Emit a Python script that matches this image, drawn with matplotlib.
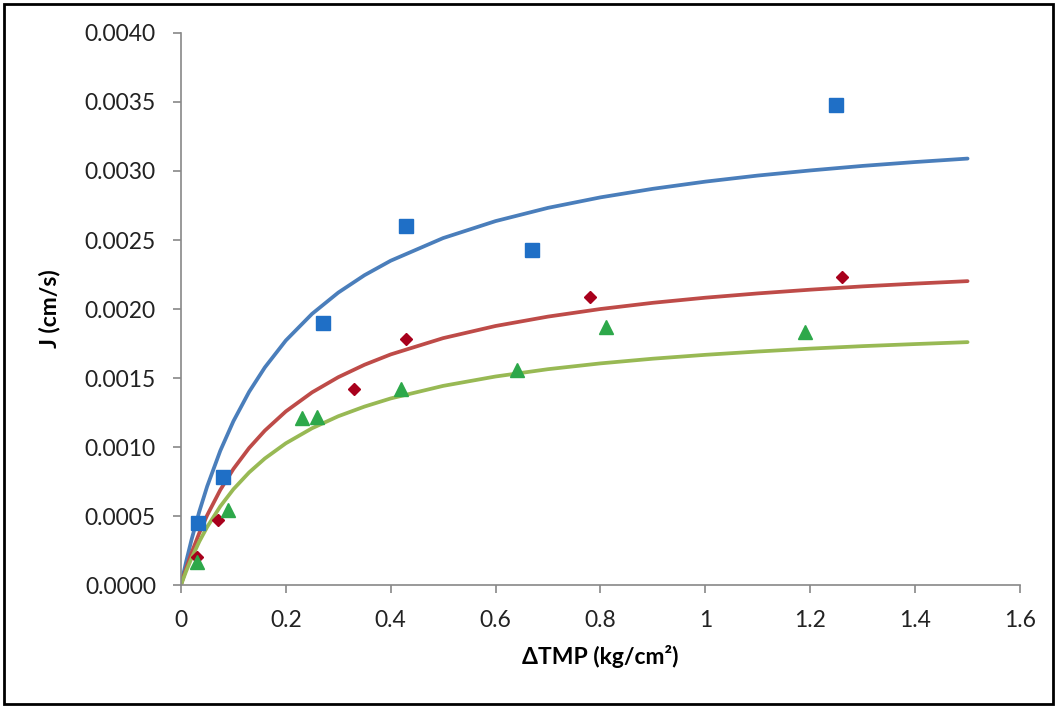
import matplotlib.pyplot as plt
from matplotlib.patches import Rectangle

plt.rcParams['font.family'] = ['Lato', 'DejaVu Sans']

# measured points
blue_x = [0.033, 0.08, 0.27, 0.43, 0.67, 1.25]
blue_y = [0.00045, 0.00078, 0.0019, 0.0026, 0.00243, 0.00348]
red_x = [0.03, 0.071, 0.33, 0.43, 0.78, 1.26]
red_y = [0.0002, 0.00047, 0.00142, 0.00178, 0.00209, 0.00223]
green_x = [0.03, 0.09, 0.23, 0.26, 0.42, 0.64, 0.81, 1.19]
green_y = [0.00017, 0.00054, 0.00121, 0.00122, 0.00142, 0.00156, 0.00187, 0.00183]

# fitted curves
curve_x = [0, 0.01, 0.02, 0.035, 0.05, 0.075, 0.1, 0.13, 0.16, 0.2, 0.25, 0.3, 0.35,
           0.4, 0.5, 0.6, 0.7, 0.8, 0.9, 1.0, 1.1, 1.2, 1.3, 1.4, 1.5]
blue_fit = [0, 0.000171, 0.000326, 0.000533, 0.000715, 0.000973, 0.001187, 0.0014,
            0.001577, 0.001772, 0.001965, 0.002119, 0.002245, 0.00235, 0.002514,
            0.002637, 0.002733, 0.002809, 0.002871, 0.002923, 0.002967, 0.003004,
            0.003037, 0.003065, 0.00309]
red_fit = [0, 0.000121, 0.000231, 0.000377, 0.000506, 0.000689, 0.000841, 0.000993,
           0.001119, 0.001258, 0.001396, 0.001506, 0.001596, 0.001671, 0.001789,
           0.001877, 0.001945, 0.002, 0.002045, 0.002082, 0.002113, 0.00214,
           0.002164, 0.002184, 0.002202]
green_fit = [0, 0.000101, 0.000193, 0.000315, 0.000421, 0.00057, 0.000694, 0.000816,
             0.000917, 0.001027, 0.001136, 0.001223, 0.001293, 0.001352, 0.001443,
             0.001511, 0.001564, 0.001606, 0.00164, 0.001668, 0.001692, 0.001713,
             0.001731, 0.001746, 0.00176]

x_ticks = [0, 0.2, 0.4, 0.6, 0.8, 1, 1.2, 1.4, 1.6]
x_labels = ['0', '0.2', '0.4', '0.6', '0.8', '1', '1.2', '1.4', '1.6']
y_ticks = [0, 0.0005, 0.001, 0.0015, 0.002, 0.0025, 0.003, 0.0035, 0.004]

fig = plt.figure(figsize=(10.57, 7.08), dpi=100)
ax = fig.add_axes([0.1712, 0.1737, 0.7938, 0.7797])

ax.plot(curve_x, blue_fit, color='#4A7EBB', lw=2.7, solid_capstyle='round', zorder=2)
ax.plot(curve_x, red_fit, color='#BE4B48', lw=2.7, solid_capstyle='round', zorder=2)
ax.plot(curve_x, green_fit, color='#98B954', lw=2.7, solid_capstyle='round', zorder=2)

ax.plot(blue_x, blue_y, 's', color='#1F6FC6', ms=10, ls='none', zorder=3)
ax.plot(red_x, red_y, 'D', color='#A8001C', ms=6.5, ls='none', zorder=3)
ax.plot(green_x, green_y, '^', color='#2DA84A', ms=9.5, ls='none', zorder=3)

ax.set_xlim(0, 1.6)
ax.set_ylim(0, 0.004)
ax.set_xticks(x_ticks)
ax.set_xticklabels(x_labels)
ax.set_yticks(y_ticks)
ax.set_yticklabels(['%.4f' % v for v in y_ticks])

for s in ['top', 'right']:
    ax.spines[s].set_visible(False)
for s in ['left', 'bottom']:
    ax.spines[s].set_color('#888888')
    ax.spines[s].set_linewidth(1.2)
ax.tick_params(colors='#888888', length=6, width=1.2, labelsize=16.5, labelcolor='#222222')
ax.tick_params(axis='y', pad=12)
ax.tick_params(axis='x', pad=12)

ax.set_xlabel('ΔTMP (kg/cm²)', fontsize=16.5, fontweight='bold', labelpad=10)
ax.set_ylabel('J (cm/s)', fontsize=16.5, fontweight='bold')
ax.yaxis.set_label_coords(-0.144, 0.5)

# outer frame
fig.patches.append(Rectangle((0.004, 0.005), 0.992, 0.99, transform=fig.transFigure,
                             fill=False, edgecolor='black', lw=2))

fig.savefig('out.png', dpi=100)
